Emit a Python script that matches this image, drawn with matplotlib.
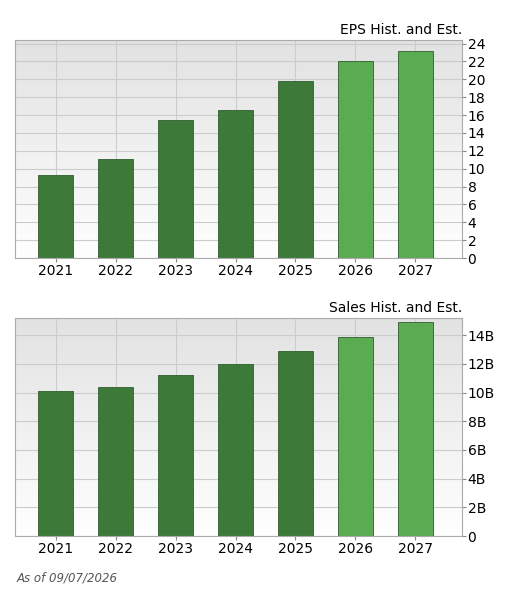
import matplotlib
matplotlib.use("Agg")
import matplotlib.pyplot as plt
import numpy as np

years = ["2021", "2022", "2023", "2024", "2025", "2026", "2027"]
eps = [9.3, 11.1, 15.5, 16.6, 19.8, 22.1, 23.2]
sales_b = [10.1, 10.4, 11.2, 12.0, 12.9, 13.9, 14.9]
is_est = [False, False, False, False, False, True, True]
hist_color = "#3d7a3a"
est_color = "#5aab52"

W, H = 515, 605
fig = plt.figure(figsize=(W/100, H/100), dpi=100)
plt.rcParams['font.family'] = ['DejaVu Sans']

def panel(rect, vals, ylim, yticks, ylabels, title):
    ax = fig.add_axes(rect)
    x0, x1 = -0.68, len(vals) - 0.22
    grad = np.linspace(0, 1, 256).reshape(-1, 1)
    ax.imshow(grad, extent=[x0, x1, 0, ylim], aspect='auto',
              cmap=matplotlib.colors.LinearSegmentedColormap.from_list('g', ['#ffffff', '#e2e2e2']),
              origin='lower', zorder=0)
    x = np.arange(len(vals))
    for xi in x:
        ax.axvline(xi, color='#cccccc', lw=0.8, zorder=1)
    for t in yticks:
        ax.axhline(t, color='#cccccc', lw=0.8, zorder=1)
    cols = [est_color if e else hist_color for e in is_est]
    ax.bar(x, vals, width=0.58, color=cols, edgecolor='#2e5e2c', linewidth=0.6, zorder=2)
    ax.set_xlim(x0, x1)
    ax.set_ylim(0, ylim)
    ax.yaxis.tick_right()
    ax.set_yticks(yticks)
    ax.set_yticklabels(ylabels, fontsize=10)
    ax.set_xticks(x)
    ax.set_xticklabels(years, fontsize=10)
    ax.tick_params(length=3, pad=1, color='#888888')
    for s in ax.spines.values():
        s.set_color('#aaaaaa')
    ax.set_title(title, loc='right', fontsize=10, pad=4)
    return ax

panel([15/W, 1-258/H, 447/W, 218/H], eps, 24.4, list(range(0, 25, 2)),
      [str(t) for t in range(0, 25, 2)], "EPS Hist. and Est.")
panel([15/W, 1-536/H, 447/W, 218/H], sales_b, 15.2, list(range(0, 15, 2)),
      ["0"] + [f"{t}B" for t in range(2, 15, 2)], "Sales Hist. and Est.")
fig.text(17/W, 1-578/H, "As of 09/07/2026", fontsize=8.5, style='italic', color='#555555', va='center')
fig.savefig("out.png", dpi=100)
